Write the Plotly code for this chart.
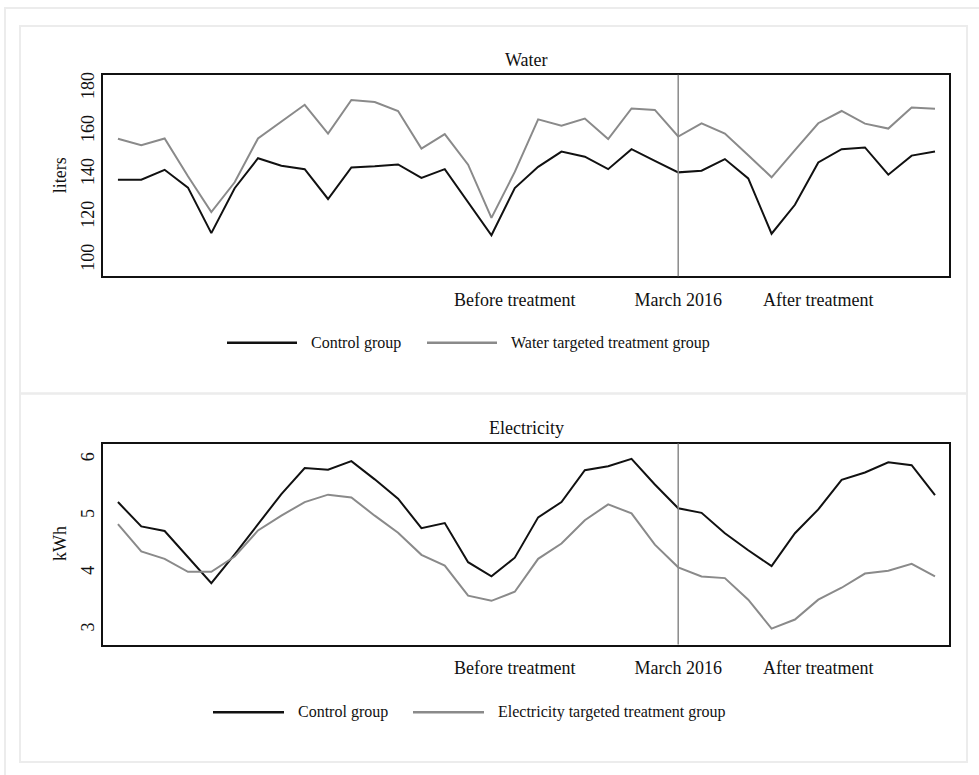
import plotly.graph_objects as go

W, H = 979, 775

months = list(range(36))  # March 2014 ... February 2017, index 24 = March 2016
treat_idx = 24

water_control = [137.4, 137.4, 142.0, 133.7, 112.5, 133.4, 147.4, 143.9, 142.3, 128.4,
                 143.1, 143.6, 144.5, 138.2, 142.3, 126.9, 111.5, 133.5, 143.4, 150.5,
                 148.1, 142.3, 151.6, 146.2, 140.8, 141.6, 147.0, 138.0, 112.2, 125.7,
                 145.4, 151.6, 152.4, 139.7, 148.6, 150.5]
water_treat = [156.5, 153.4, 156.6, 139.0, 122.3, 136.2, 156.6, 164.3, 172.3, 158.9,
               174.5, 173.6, 169.4, 151.9, 158.6, 144.4, 119.6, 141.0, 165.5, 162.5,
               165.9, 156.3, 170.6, 169.9, 157.5, 163.6, 158.9, 148.8, 138.5, 151.2,
               163.7, 169.4, 163.5, 161.2, 171.0, 170.5]

elec_control = [5.25, 4.82, 4.74, 4.28, 3.82, 4.33, 4.86, 5.39, 5.85, 5.82,
                5.97, 5.65, 5.31, 4.79, 4.88, 4.19, 3.94, 4.27, 4.98, 5.25,
                5.81, 5.88, 6.01, 5.56, 5.14, 5.06, 4.70, 4.40, 4.12, 4.70,
                5.12, 5.64, 5.77, 5.95, 5.90, 5.37]
elec_treat = [4.86, 4.38, 4.25, 4.02, 4.02, 4.29, 4.75, 5.01, 5.25, 5.38,
              5.33, 5.01, 4.71, 4.32, 4.13, 3.60, 3.51, 3.67, 4.25, 4.52,
              4.93, 5.21, 5.05, 4.50, 4.10, 3.94, 3.91, 3.53, 3.02, 3.18,
              3.53, 3.74, 3.99, 4.04, 4.16, 3.94]

x_tickvals = [17, 24, 30]
x_ticktext = ["Before treatment", "March 2016", "After treatment"]
water_ticks = [100, 120, 140, 160, 180]
elec_ticks = [3, 4, 5, 6]

BLACK = "#111111"
GRAY = "#8a8a8a"
FONT = "Liberation Serif"
FS = 18
FS_LEG = 16

def px(x):
    return x / W

def py(y):
    return 1 - y / H

fig = go.Figure()

fig.add_trace(go.Scatter(x=months, y=water_control, mode="lines", line=dict(color=BLACK, width=2),
                         name="Control group", xaxis="x", yaxis="y", showlegend=False))
fig.add_trace(go.Scatter(x=months, y=water_treat, mode="lines", line=dict(color=GRAY, width=2),
                         name="Water targeted treatment group", xaxis="x", yaxis="y", showlegend=False))
fig.add_trace(go.Scatter(x=months, y=elec_control, mode="lines", line=dict(color=BLACK, width=2),
                         name="Control group", xaxis="x2", yaxis="y2", showlegend=False))
fig.add_trace(go.Scatter(x=months, y=elec_treat, mode="lines", line=dict(color=GRAY, width=2),
                         name="Electricity targeted treatment group", xaxis="x2", yaxis="y2", showlegend=False))

xdom = [px(103), px(949)]
xr = [-0.64, 35.6]

common_x = dict(range=xr, domain=xdom, tickvals=x_tickvals, ticktext=x_ticktext,
                showgrid=False, zeroline=False, showline=True, mirror=True,
                linecolor=BLACK, linewidth=1.5, ticks="outside", ticklen=6,
                tickcolor="rgba(0,0,0,0)", tickfont=dict(family=FONT, size=FS, color="#111"))
common_y = dict(showgrid=False, zeroline=False, showline=True, mirror=True,
                linecolor=BLACK, linewidth=1.5, ticks="", tickangle=-90,
                tickfont=dict(family=FONT, size=FS, color="#111"))

fig.update_layout(
    width=W, height=H,
    margin=dict(l=0, r=0, t=0, b=0),
    paper_bgcolor="white", plot_bgcolor="white",
    showlegend=False,
    font=dict(family=FONT, size=FS, color="#111"),
    xaxis=dict(common_x, anchor="y"),
    yaxis=dict(common_y, domain=[py(274.3), py(72)], range=[92.4, 186.3], tickvals=water_ticks,
               anchor="x"),
    xaxis2=dict(common_x, anchor="y2"),
    yaxis2=dict(common_y, domain=[py(644), py(442.3)], range=[2.74, 6.28], tickvals=elec_ticks,
                anchor="x2"),
)

shapes = []
# panel borders
shapes.append(dict(type="rect", xref="paper", yref="paper", x0=px(5), x1=px(990), y0=py(790), y1=py(5),
                   line=dict(color="#ececec", width=2), layer="below"))
shapes.append(dict(type="rect", xref="paper", yref="paper", x0=px(20), x1=px(967), y0=py(392), y1=py(23),
                   line=dict(color="#ececec", width=2), layer="below"))
shapes.append(dict(type="rect", xref="paper", yref="paper", x0=px(20), x1=px(967), y0=py(762), y1=py(392),
                   line=dict(color="#ececec", width=2), layer="below"))
# treatment lines
for xa, ya in (("x", "y"), ("x2", "y2")):
    shapes.append(dict(type="line", xref=xa, yref=ya + " domain", x0=treat_idx, x1=treat_idx, y0=0, y1=1,
                       line=dict(color=GRAY, width=1.5)))

annotations = []
# titles
annotations.append(dict(text="Water", x=(xdom[0] + xdom[1]) / 2, y=py(57), xref="paper", yref="paper",
                        showarrow=False, font=dict(family=FONT, size=FS), xanchor="center", yanchor="middle"))
annotations.append(dict(text="Electricity", x=(xdom[0] + xdom[1]) / 2, y=py(427), xref="paper", yref="paper",
                        showarrow=False, font=dict(family=FONT, size=FS), xanchor="center", yanchor="middle"))
# y titles
annotations.append(dict(text="liters", x=px(60), y=py(173), xref="paper", yref="paper", textangle=-90,
                        showarrow=False, font=dict(family=FONT, size=FS), xanchor="center", yanchor="middle"))
annotations.append(dict(text="kWh", x=px(60), y=py(543), xref="paper", yref="paper", textangle=-90,
                        showarrow=False, font=dict(family=FONT, size=FS), xanchor="center", yanchor="middle"))

# legends (manual)
def legend(yc, items):
    for (x0, x1, tx, color, width, label) in items:
        shapes.append(dict(type="line", xref="paper", yref="paper", x0=px(x0), x1=px(x1), y0=py(yc), y1=py(yc),
                           line=dict(color=color, width=width)))
        annotations.append(dict(text=label, x=px(tx), y=py(yc), xref="paper", yref="paper", showarrow=False,
                                xanchor="left", yanchor="middle", font=dict(family=FONT, size=FS_LEG)))

legend(341, [(227, 297, 309, BLACK, 2.5, "Control group"),
             (427, 497, 509, GRAY, 2.5, "Water targeted treatment group")])
legend(712, [(213, 284, 296, BLACK, 2.5, "Control group"),
             (413, 484, 496, GRAY, 2.5, "Electricity targeted treatment group")])

fig.update_layout(shapes=shapes, annotations=annotations)

fig.write_html("out.html")
